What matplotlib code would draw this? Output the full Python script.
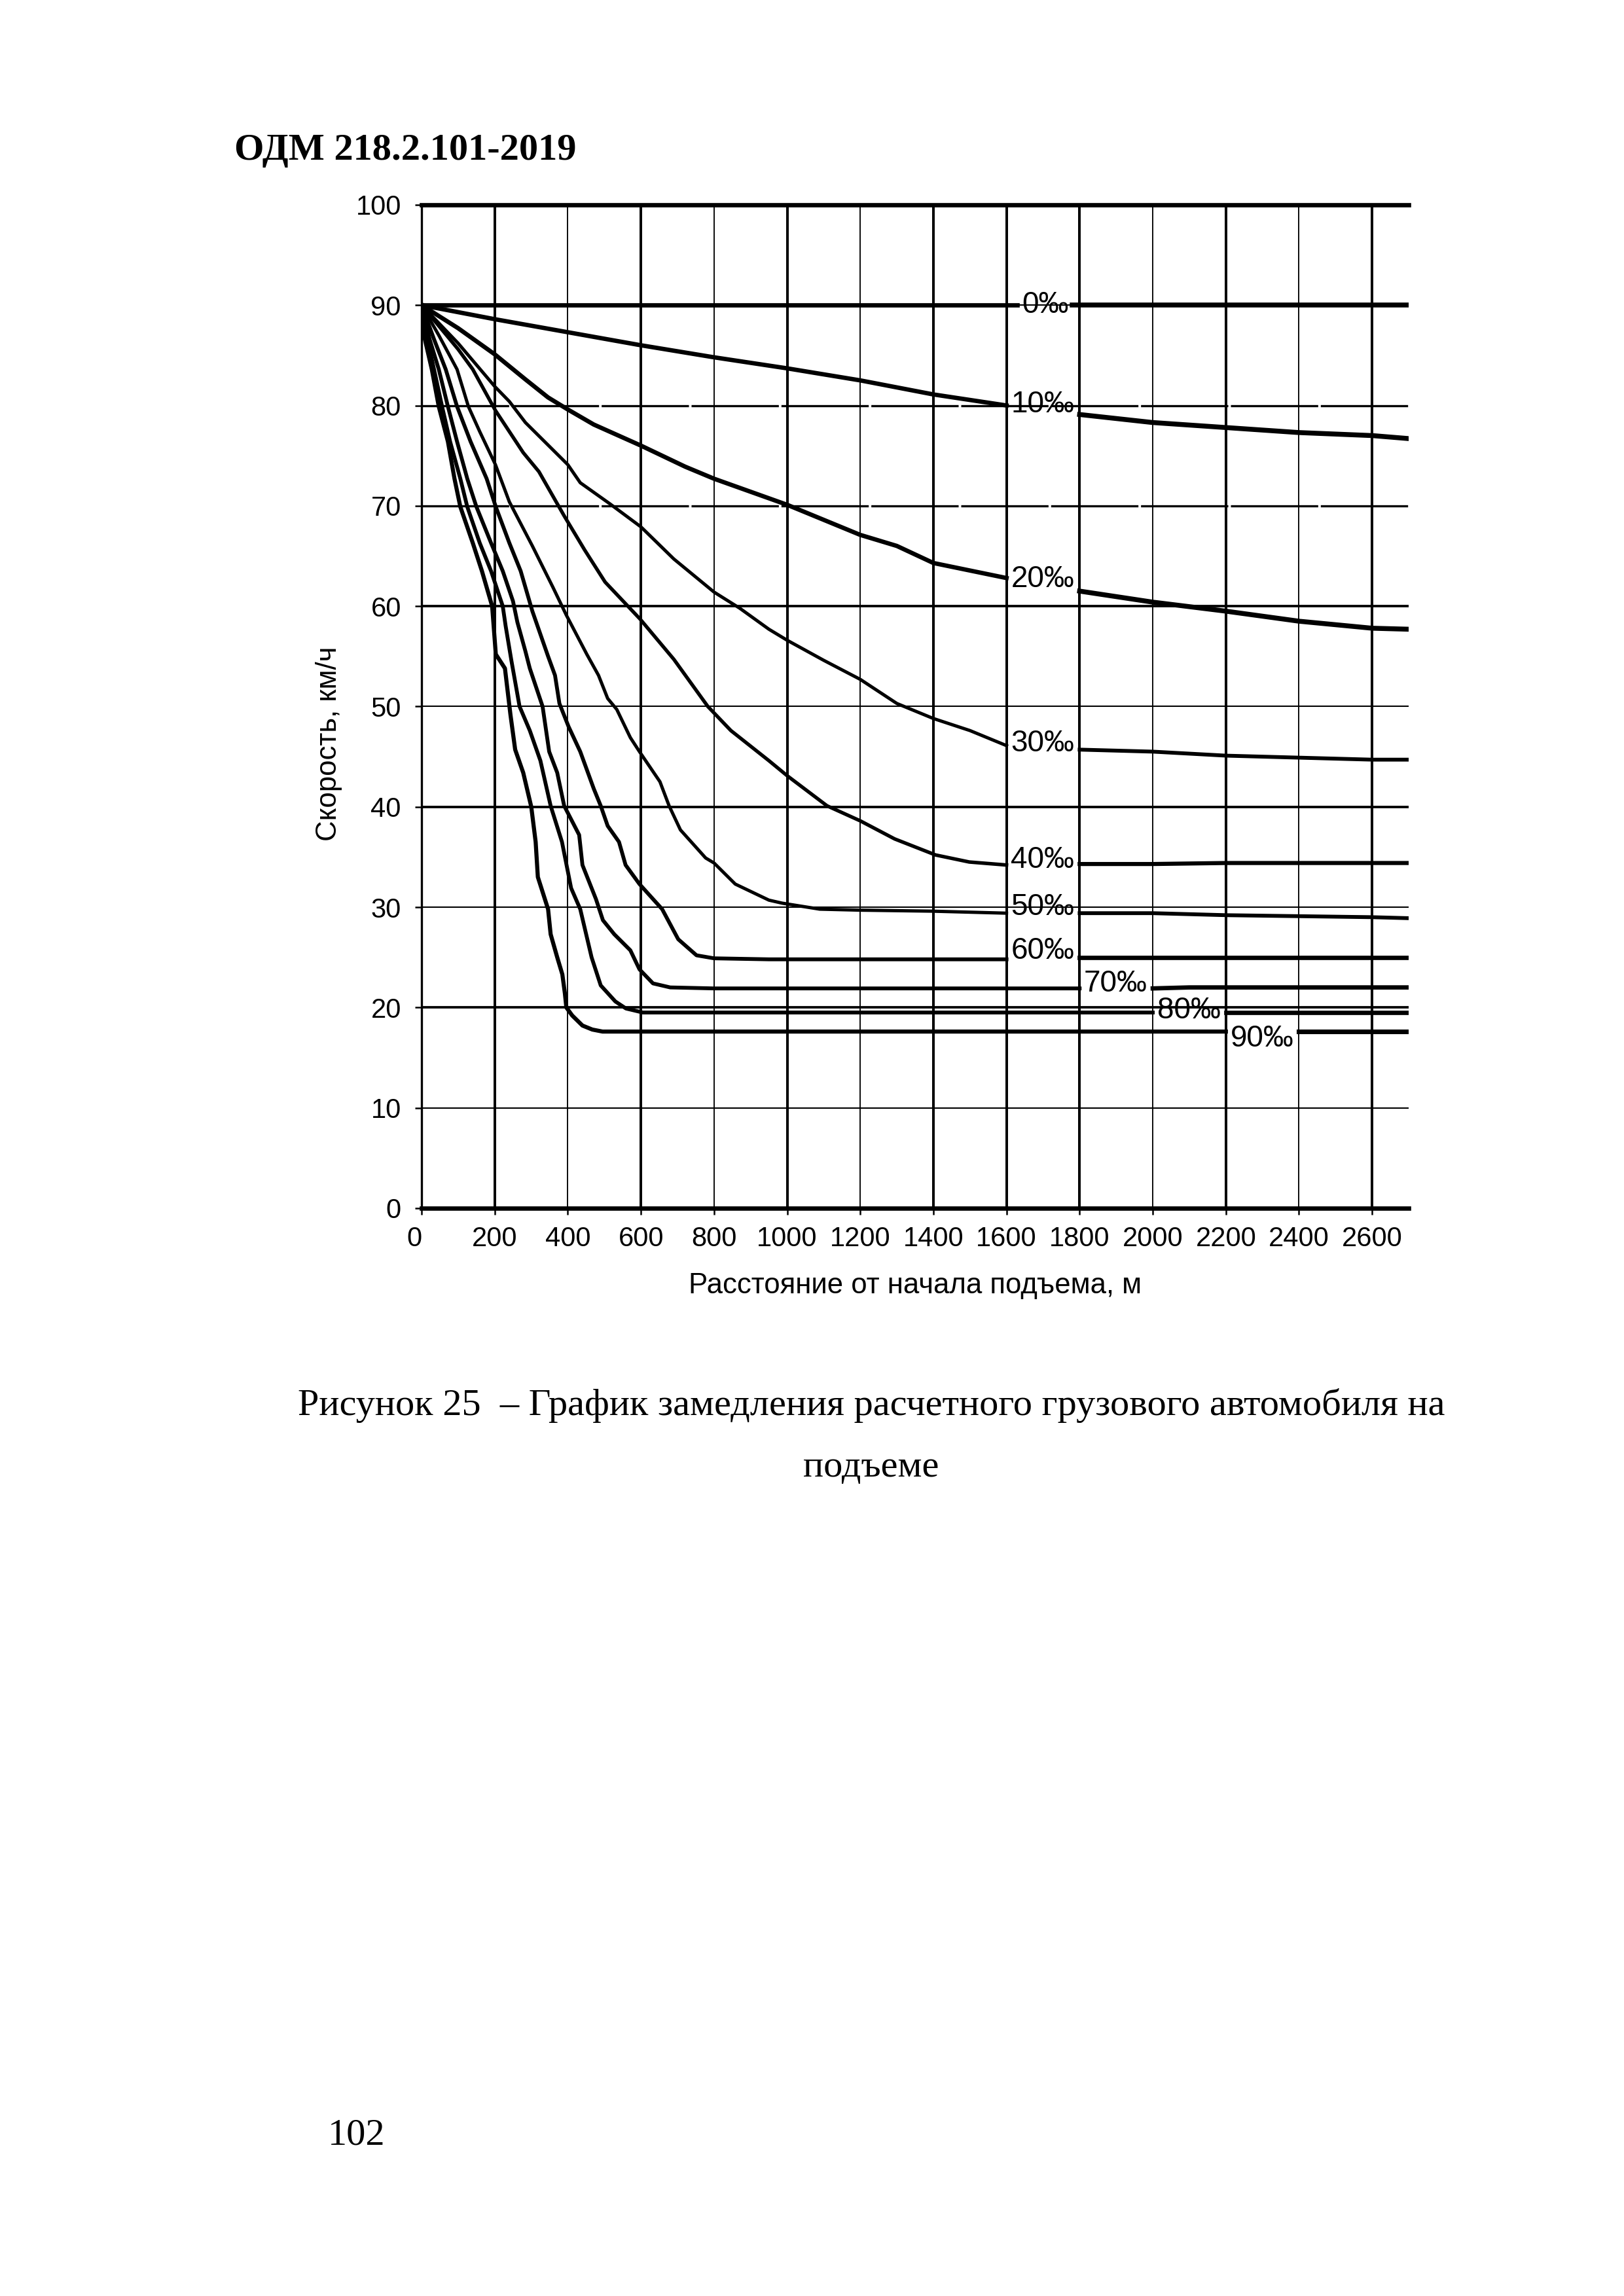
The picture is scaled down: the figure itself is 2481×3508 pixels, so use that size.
import numpy as np
import matplotlib
matplotlib.use("Agg")
import matplotlib.pyplot as plt

# Grade labels (per mille) and the speed curves
grades = ["0‰", "10‰", "20‰", "30‰", "40‰", "50‰", "60‰", "70‰", "80‰", "90‰"]

dist_0 = [0, 1630, 1780, 2700]
speed_0 = [90, 90, 90, 90]

dist_10 = [0, 100, 200, 400, 600, 800, 1000, 1200, 1400, 1600,
           1800, 2000, 2200, 2400, 2600, 2700]
speed_10 = [90, 89.3, 88.6, 87.3, 86.0, 84.8, 83.7, 82.5, 81.1, 80.0,
            79.1, 78.3, 77.8, 77.3, 77.0, 76.7]

dist_20 = [0, 100, 200, 284, 346, 400, 471, 600, 721, 800, 1000, 1200, 1300,
           1400, 1600, 1800, 2000, 2200, 2400, 2600, 2700]
speed_20 = [90, 87.7, 85.1, 82.6, 80.8, 79.6, 78.1, 76.0, 73.9, 72.7, 70.1,
            67.1, 66.0, 64.3, 62.8, 61.5, 60.4, 59.5, 58.5, 57.8, 57.7]

dist_30 = [0, 100, 200, 240, 284, 400, 434, 515, 600, 690, 800, 870, 950, 1000,
           1100, 1200, 1300, 1400, 1500, 1600, 1800, 2000, 2200, 2400, 2600, 2700]
speed_30 = [90, 86.2, 81.9, 80.4, 78.3, 74.1, 72.3, 70.2, 67.9, 64.7, 61.4, 59.8,
            57.7, 56.6, 54.6, 52.7, 50.3, 48.8, 47.6, 46.1, 45.7, 45.5, 45.1,
            44.9, 44.7, 44.7]

dist_40 = [0, 100, 140, 202, 278, 321, 390, 446, 502, 598, 690, 783, 846, 950,
           1000, 1109, 1200, 1294, 1406, 1498, 1600, 1800, 2000, 2200, 2400,
           2600, 2700]
speed_40 = [90, 85.6, 83.6, 79.5, 75.3, 73.4, 69.0, 65.6, 62.4, 58.7, 54.7,
            50.0, 47.6, 44.6, 43.1, 40.1, 38.6, 36.8, 35.2, 34.5, 34.2, 34.3,
            34.3, 34.4, 34.4, 34.4, 34.4]

dist_50 = [0, 47, 97, 128, 159, 202, 240, 303, 359, 396, 452, 484, 509, 534,
           571, 596, 652, 677, 708, 777, 800, 858, 950, 986, 1089, 1200, 1396,
           1600, 1800, 2000, 2200, 2400, 2600, 2700]
speed_50 = [90, 87.0, 83.6, 79.9, 77.4, 74.1, 70.4, 66.0, 61.9, 59.1, 55.2,
            53.1, 50.8, 49.7, 46.9, 45.5, 42.5, 40.1, 37.7, 34.9, 34.4, 32.3,
            30.7, 30.4, 29.8, 29.7, 29.6, 29.4, 29.4, 29.4, 29.2, 29.1, 29.0, 28.9]

dist_60 = [0, 34, 66, 97, 134, 178, 203, 240, 271, 303, 346, 365, 377, 402,
           434, 471, 490, 509, 540, 558, 596, 658, 702, 752, 800, 950, 1200,
           1600, 1800, 2200, 2700]
speed_60 = [90, 86.6, 83.6, 79.9, 76.4, 72.7, 69.9, 66.3, 63.5, 59.5, 55.0,
            53.1, 50.3, 48.0, 45.5, 41.8, 40.1, 38.1, 36.5, 34.2, 32.3, 29.8,
            26.8, 25.2, 24.9, 24.8, 24.8, 24.8, 25.0, 25.0, 25.0]

dist_70 = [0, 22, 47, 72, 97, 125, 150, 190, 222, 250, 262, 284, 296, 331, 349,
           371, 390, 431, 440, 477, 496, 527, 571, 596, 633, 680, 800, 1200,
           1800, 2000, 2100, 2700]
speed_70 = [90, 86.6, 83.6, 79.9, 76.4, 72.7, 69.9, 66.3, 63.5, 60.5, 58.4,
            55.5, 53.8, 50.0, 45.5, 43.4, 40.1, 37.2, 34.2, 30.8, 28.7, 27.3,
            25.7, 23.8, 22.4, 22.0, 21.9, 21.9, 21.9, 21.9, 22.0, 22.0]

dist_80 = [0, 16, 34, 56, 78, 106, 125, 159, 190, 222, 230, 246, 268, 296, 325,
           353, 384, 409, 434, 465, 490, 530, 559, 605, 1000, 1600, 2000, 2200,
           2700]
speed_80 = [90, 86.6, 83.6, 79.9, 76.4, 72.7, 69.9, 66.3, 63.5, 60.0, 58.0,
            54.5, 50.0, 47.6, 44.6, 40.1, 36.5, 31.9, 29.8, 25.0, 22.2, 20.6,
            19.9, 19.5, 19.5, 19.5, 19.5, 19.5, 19.5]

dist_90 = [0, 9, 28, 47, 72, 90, 106, 140, 165, 193, 203, 228, 243, 256, 278,
           300, 312, 318, 346, 353, 371, 385, 392, 396, 412, 440, 467, 495,
           1000, 2200, 2400, 2700]
speed_90 = [90, 86.6, 83.6, 79.9, 76.4, 72.7, 69.9, 66.3, 63.5, 60.0, 55.2,
            53.8, 49.2, 45.7, 43.4, 40.0, 36.5, 33.0, 29.8, 27.3, 25.0, 23.3,
            21.4, 20.0, 19.2, 18.2, 17.8, 17.6, 17.6, 17.6, 17.6, 17.6]

dists = [dist_0, dist_10, dist_20, dist_30, dist_40, dist_50, dist_60,
         dist_70, dist_80, dist_90]
speeds = [speed_0, speed_10, speed_20, speed_30, speed_40, speed_50, speed_60,
          speed_70, speed_80, speed_90]

# where each curve is broken for its label
gap_lo = [1630, 1600, 1600, 1600, 1600, 1600, 1600, 1800, 2000, 2200]
gap_hi = [1780, 1800, 1800, 1800, 1800, 1800, 1800, 2000, 2200, 2400]
label_dy = [0, 0.1, -0.1, 0.2, 0.5, 0.6, 0.8, 0.5, 0.2, -0.7]
line_w = [1.6, 1.6, 1.6, 1.2, 1.3, 1.2, 1.4, 1.4, 1.4, 1.5]

x_ticks = np.arange(0, 2601, 200)
y_ticks = np.arange(0, 101, 10)

sans = ["Liberation Sans", "DejaVu Sans"]
serif = ["Liberation Serif", "DejaVu Serif"]

fig = plt.figure(figsize=(2481 / 300, 3508 / 300), dpi=300)
ax = fig.add_axes([0.2596, 0.4738, 0.6078, 0.437])
ax.set_xlim(0, 2700)
ax.set_ylim(0, 100)

# grid
thick_v = [200, 600, 1000, 1400, 1600, 1800, 2200, 2600]
for xv in x_ticks[1:]:
    ax.axvline(xv, color="black", lw=0.95 if xv in thick_v else 0.45, zorder=1)
for yv in y_ticks[1:-1]:
    if yv in (70, 80):
        ax.axhline(yv, color="black", lw=0.8, ls=(0, (40, 1.2)), zorder=1)
    elif yv in (60, 40, 20):
        ax.axhline(yv, color="black", lw=0.9, zorder=1)
    else:
        ax.axhline(yv, color="black", lw=0.5, zorder=1)

# curves, broken where the label sits
for i in range(len(grades)):
    x = np.array(dists[i], dtype=float)
    y = np.array(speeds[i], dtype=float)
    left = x <= gap_lo[i]
    right = x >= gap_hi[i]
    ax.plot(x[left], y[left], color="black", lw=line_w[i], zorder=3,
            solid_joinstyle="round")
    ax.plot(x[right], y[right], color="black", lw=line_w[i] + 0.2, zorder=3)
    y_lab = y[left][-1] + label_dy[i]
    ax.text(gap_lo[i] + 12, y_lab, grades[i], family=sans, fontsize=11,
            ha="left", va="center", zorder=4)

ax.spines["right"].set_visible(False)
ax.spines["top"].set_linewidth(1.6)
ax.spines["bottom"].set_linewidth(1.6)
ax.spines["left"].set_linewidth(0.8)

ax.set_xticks(x_ticks)
ax.set_xticklabels([str(v) for v in x_ticks], family=sans, fontsize=10)
ax.set_yticks(y_ticks)
ax.set_yticklabels([str(v) for v in y_ticks], family=sans, fontsize=10)
ax.tick_params(axis="both", direction="out", length=2.5, width=0.6)
ax.tick_params(axis="x", pad=4)
ax.tick_params(axis="y", pad=5)
ax.get_xticklabels()[0].set_horizontalalignment("right")

fig.text(0.2027, 0.6762, "Скорость, км/ч", family=sans, fontsize=10.5,
         rotation=90, ha="center", va="center")
fig.text(0.5635, 0.4401, "Расстояние от начала подъема, м", family=sans,
         fontsize=10.5, ha="center", va="center")

# page text
fig.text(0.1443, 0.9344, "ОДМ 218.2.101-2019", family=serif, fontsize=14,
         fontweight="bold", ha="left", va="center")
fig.text(0.5365, 0.3877,
         "Рисунок 25  – График замедления расчетного грузового автомобиля на",
         family=serif, fontsize=14, ha="center", va="center")
fig.text(0.5365, 0.3609, "подъеме", family=serif, fontsize=14,
         ha="center", va="center")
fig.text(0.2196, 0.0701, "102", family=serif, fontsize=14,
         ha="center", va="center")

fig.savefig("out.png", dpi=300, facecolor="white")
